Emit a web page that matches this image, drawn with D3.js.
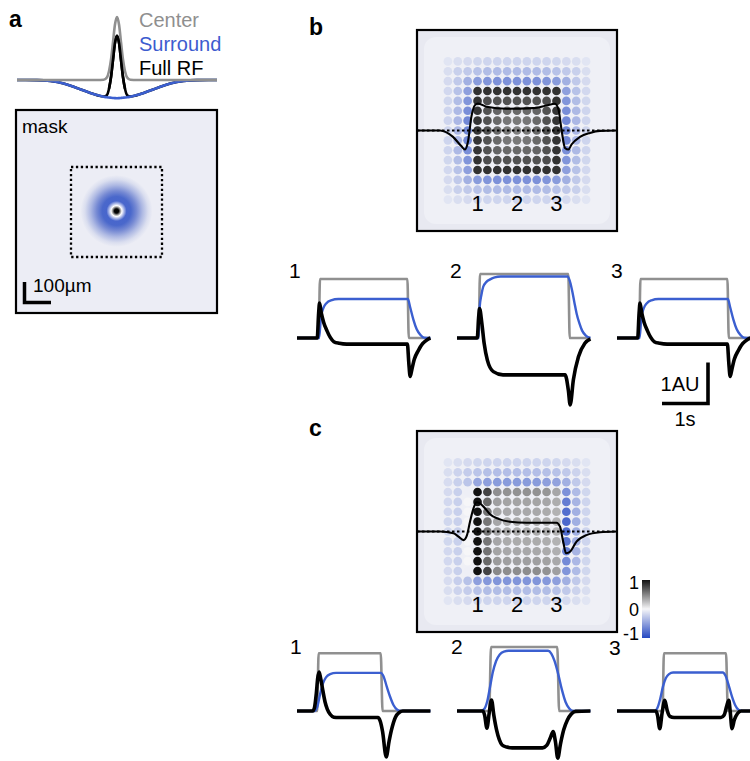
<!DOCTYPE html>
<html>
<head>
<meta charset="utf-8">
<script src="https://cdn.jsdelivr.net/npm/d3@7"></script>
<style>
  body { margin: 0; background: #fff; }
  svg { display: block; }
  text { font-family: "Liberation Sans", Arial, Helvetica, sans-serif; }
</style>
</head>
<body>
<svg id="fig" width="750" height="761"></svg>
<script>
// ---------------- panel a: spatial receptive-field profile (x in µm) ----------------
const profileX = [-375,-300,-250,-200,-160,-130,-100,-75,-50,-38,-30,-22,-15,-8,0,8,15,22,30,38,50,75,100,130,160,200,250,300,375];
const centerRF = [0,0,0,0,0,0,0,0,0.004,0.04,0.14,0.34,0.6,0.87,1,0.87,0.6,0.34,0.14,0.04,0.004,0,0,0,0,0,0,0,0];
const surroundRF = [0,-0.002,-0.015,-0.055,-0.11,-0.16,-0.205,-0.24,-0.265,-0.275,-0.278,-0.282,-0.285,-0.288,-0.29,-0.288,-0.285,-0.282,-0.278,-0.275,-0.265,-0.24,-0.205,-0.16,-0.11,-0.055,-0.015,-0.002,0];
const fullRF = [0,-0.002,-0.015,-0.055,-0.11,-0.16,-0.205,-0.24,-0.262,-0.24,-0.14,0.06,0.32,0.58,0.7,0.58,0.32,0.06,-0.14,-0.24,-0.262,-0.24,-0.205,-0.16,-0.11,-0.055,-0.015,-0.002,0];
const legendLabels = ["Center", "Surround", "Full RF"];
const maskLabel = "mask";
const scaleBarLabel = "100µm";

// ---------------- response maps (15 x 15 stimulus positions, value -1..1) ----------------
const mapB = [
  [-.10,-.14,-.16,-.18,-.19,-.19,-.19,-.19,-.19,-.19,-.19,-.18,-.16,-.14,-.10],
  [-.14,-.22,-.26,-.30,-.33,-.34,-.34,-.34,-.34,-.34,-.33,-.30,-.26,-.22,-.14],
  [-.16,-.26,-.40,-.52,-.56,-.58,-.58,-.58,-.58,-.58,-.56,-.52,-.40,-.26,-.16],
  [-.17,-.30,-.50,.86,.86,.86,.86,.86,.86,.86,.86,.86,-.50,-.30,-.17],
  [-.18,-.33,-.56,.86,.74,.72,.72,.72,.72,.72,.74,.86,-.56,-.33,-.18],
  [-.19,-.35,-.60,.85,.72,.64,.62,.62,.62,.64,.72,.85,-.60,-.35,-.19],
  [-.19,-.36,-.63,.85,.72,.62,.56,.55,.56,.62,.72,.85,-.63,-.36,-.19],
  [-.19,-.36,-.64,.85,.72,.62,.55,.52,.55,.62,.72,.85,-.64,-.36,-.19],
  [-.19,-.36,-.63,.85,.72,.62,.56,.55,.56,.62,.72,.85,-.63,-.36,-.19],
  [-.19,-.35,-.60,.85,.72,.64,.62,.62,.62,.64,.72,.85,-.60,-.35,-.19],
  [-.18,-.33,-.56,.86,.74,.72,.72,.72,.72,.72,.74,.86,-.56,-.33,-.18],
  [-.17,-.30,-.50,.86,.86,.86,.86,.86,.86,.86,.86,.86,-.50,-.30,-.17],
  [-.16,-.26,-.40,-.52,-.56,-.58,-.58,-.58,-.58,-.58,-.56,-.52,-.40,-.26,-.16],
  [-.14,-.22,-.26,-.30,-.33,-.34,-.34,-.34,-.34,-.34,-.33,-.30,-.26,-.22,-.14],
  [-.10,-.14,-.16,-.18,-.19,-.19,-.19,-.19,-.19,-.19,-.19,-.18,-.16,-.14,-.10]
];
const mapC = [
  [-.10,-.14,-.16,-.18,-.19,-.19,-.19,-.19,-.19,-.19,-.19,-.18,-.16,-.14,-.10],
  [-.14,-.20,-.24,-.28,-.31,-.32,-.32,-.32,-.32,-.32,-.31,-.30,-.26,-.20,-.14],
  [-.15,-.22,-.28,-.46,-.50,-.52,-.52,-.52,-.52,-.52,-.50,-.48,-.40,-.26,-.16],
  [-.16,-.22,-.04,1,.78,.45,.44,.44,.44,.44,.42,.35,-.58,-.34,-.18],
  [-.17,-.22,0,1,.62,.38,.36,.36,.36,.36,.35,.32,-.70,-.38,-.19],
  [-.17,-.22,0,1,.58,.36,.34,.34,.34,.34,.33,.30,-.78,-.40,-.19],
  [-.18,-.22,0,1,.56,.35,.33,.33,.33,.33,.32,.30,-.82,-.41,-.19],
  [-.18,-.22,0,1,.56,.35,.33,.33,.33,.33,.32,.30,-.80,-.41,-.19],
  [-.18,-.22,0,1,.56,.35,.33,.33,.33,.33,.32,.30,-.74,-.40,-.19],
  [-.17,-.22,0,1,.58,.36,.34,.34,.34,.34,.33,.31,-.68,-.38,-.19],
  [-.17,-.22,0,1,.62,.40,.38,.38,.38,.38,.37,.34,-.62,-.36,-.18],
  [-.16,-.22,-.04,1,.78,.48,.46,.46,.46,.46,.44,.38,-.56,-.34,-.18],
  [-.15,-.23,-.30,-.50,-.54,-.56,-.56,-.56,-.56,-.56,-.54,-.50,-.40,-.26,-.16],
  [-.14,-.20,-.24,-.30,-.33,-.33,-.33,-.33,-.33,-.33,-.33,-.30,-.26,-.20,-.14],
  [-.10,-.14,-.16,-.18,-.19,-.19,-.19,-.19,-.19,-.19,-.19,-.18,-.16,-.14,-.10]
];
const positionLabels = ["1", "2", "3"];
const positionColumns = [3, 7, 11];
const colorbarTicks = [1, 0, -1];

// ---------------- summed responses drawn over the maps: [time s, AU] ----------------
const overlayB = [[0,0],[0.46,0],[0.72,-0.32],[0.89,-0.79],[0.96,-0.95],[1.02,-0.55],[1.09,0.72],[1.16,1.27],[1.22,1.35],[1.39,1.19],[1.79,1.09],[2.32,1.12],[2.59,1.25],[2.76,1.34],[2.83,1.05],[2.89,0.05],[2.96,-0.87],[3.03,-0.95],[3.09,-0.7],[3.26,-0.32],[3.46,-0.12],[3.66,-0.02],[4,0]];
const overlayC = [[0,0],[0.46,0],[0.73,-0.09],[0.83,-0.26],[0.93,-0.43],[1.0,-0.18],[1.06,0.49],[1.13,1.16],[1.19,1.46],[1.26,1.41],[1.36,1.16],[1.46,0.86],[1.63,0.63],[1.86,0.49],[2.19,0.44],[2.79,0.44],[2.86,0.24],[2.93,-0.59],[2.98,-1.09],[3.06,-1.01],[3.19,-0.51],[3.39,-0.18],[3.66,-0.04],[4,0]];

// ---------------- single-position responses: [time s, AU] ----------------
const b1Center = [[0,0],[0.47,0],[0.5,1.44],[2.4,1.44],[2.43,0],[2.9,0]];
const b1Surround = [[0,0],[0.48,0],[0.52,0.5],[0.57,0.72],[0.64,0.85],[0.74,0.92],[0.9,0.95],[2.41,0.95],[2.46,0.75],[2.53,0.45],[2.6,0.22],[2.68,0.08],[2.76,0.01],[2.9,0]];
const b1Full = [[0,0],[0.44,0],[0.47,0.6],[0.49,0.85],[0.53,0.6],[0.58,0.38],[0.65,0.18],[0.72,0.02],[0.8,-0.09],[0.92,-0.13],[1.08,-0.15],[2.4,-0.15],[2.43,-0.6],[2.46,-0.94],[2.5,-0.75],[2.55,-0.52],[2.64,-0.3],[2.73,-0.14],[2.83,-0.04],[2.9,0]];

const b2Center = [[0,0],[0.47,0],[0.5,1.56],[2.42,1.56],[2.45,0],[2.9,0]];
const b2Surround = [[0,0],[0.47,0],[0.49,0.72],[0.53,1.05],[0.57,1.25],[0.64,1.37],[0.72,1.43],[0.82,1.48],[0.95,1.5],[2.4,1.5],[2.45,1.4],[2.5,1.17],[2.55,0.88],[2.6,0.6],[2.66,0.36],[2.72,0.18],[2.8,0.06],[2.9,0]];
const b2Full = [[0,0],[0.44,0],[0.47,0.5],[0.49,0.72],[0.54,0.36],[0.59,-0.13],[0.66,-0.54],[0.79,-0.82],[1.0,-0.9],[2.35,-0.9],[2.42,-1.27],[2.46,-1.63],[2.53,-1.02],[2.64,-0.46],[2.78,-0.13],[2.9,-0.02]];

const b3Center = [[0,0],[0.48,0],[0.51,1.44],[2.4,1.44],[2.43,0],[2.9,0]];
const b3Surround = [[0,0],[0.49,0],[0.53,0.5],[0.58,0.72],[0.65,0.85],[0.75,0.92],[0.9,0.95],[2.41,0.95],[2.46,0.75],[2.53,0.45],[2.6,0.22],[2.68,0.08],[2.76,0.01],[2.9,0]];
const b3Full = [[0,0],[0.45,0],[0.48,0.6],[0.5,0.85],[0.54,0.6],[0.59,0.38],[0.66,0.18],[0.73,0.02],[0.81,-0.09],[0.93,-0.13],[1.09,-0.15],[2.4,-0.15],[2.43,-0.6],[2.46,-0.94],[2.5,-0.75],[2.55,-0.52],[2.64,-0.3],[2.73,-0.14],[2.83,-0.04],[2.9,0]];

const c1Center = [[0,0],[0.44,0],[0.47,1.41],[1.82,1.41],[1.86,0],[2.9,0]];
const c1Surround = [[0,0],[0.38,0],[0.44,0.1],[0.5,0.4],[0.56,0.66],[0.63,0.82],[0.72,0.9],[0.85,0.93],[1.82,0.93],[1.88,0.85],[1.95,0.6],[2.02,0.36],[2.1,0.14],[2.18,0.03],[2.26,0],[2.9,0]];
const c1Full = [[0,0],[0.34,0],[0.38,0.08],[0.42,0.43],[0.45,0.8],[0.48,0.95],[0.51,0.82],[0.56,0.51],[0.61,0.22],[0.66,0.04],[0.72,-0.08],[0.8,-0.15],[0.9,-0.16],[1.76,-0.16],[1.81,-0.25],[1.86,-0.5],[1.94,-1.12],[2.0,-0.75],[2.05,-0.48],[2.14,-0.15],[2.22,-0.04],[2.3,0],[2.9,0]];

const c2Center = [[0,0],[0.7,0],[0.74,1.56],[2.18,1.56],[2.22,0],[2.9,0]];
const c2Surround = [[0,0],[0.52,0],[0.6,0.06],[0.66,0.25],[0.72,0.6],[0.78,0.95],[0.85,1.22],[0.93,1.38],[1.02,1.45],[1.12,1.47],[1.98,1.47],[2.05,1.4],[2.12,1.22],[2.2,0.9],[2.28,0.52],[2.36,0.22],[2.44,0.06],[2.52,0],[2.9,0]];
const c2Full = [[0,0],[0.56,0],[0.6,-0.1],[0.65,-0.42],[0.7,-0.05],[0.75,0.27],[0.8,-0.1],[0.86,-0.46],[0.92,-0.7],[0.98,-0.83],[1.08,-0.88],[1.2,-0.9],[1.86,-0.9],[1.95,-0.84],[2.03,-0.65],[2.09,-0.5],[2.14,-0.75],[2.19,-1.15],[2.25,-0.8],[2.32,-0.46],[2.4,-0.22],[2.48,-0.08],[2.58,-0.01],[2.9,0]];

const c3Center = [[0,0],[0.99,0],[1.02,1.41],[2.37,1.41],[2.41,0],[2.9,0]];
const c3Surround = [[0,0],[0.82,0],[0.88,0.08],[0.94,0.3],[1.0,0.6],[1.06,0.8],[1.13,0.9],[1.22,0.94],[2.3,0.94],[2.36,0.86],[2.43,0.62],[2.5,0.35],[2.57,0.14],[2.64,0.03],[2.72,0],[2.9,0]];
const c3Full = [[0,0],[0.84,0],[0.88,-0.1],[0.93,-0.43],[0.98,-0.05],[1.04,0.26],[1.09,0.02],[1.15,-0.13],[1.24,-0.16],[2.26,-0.16],[2.33,-0.1],[2.38,0.1],[2.43,0.26],[2.46,0.0],[2.5,-0.43],[2.55,-0.22],[2.62,-0.06],[2.7,0],[2.9,0]];

const scaleLabels = ["1AU", "1s"];

// ---------------- styling ----------------
const GRAY = "#909090", BLUE = "#3b5fd0", BLACK = "#000";
const BG = "#ecedf5";
const svg = d3.select("#fig");
const defs = svg.append("defs");

const cmapPos = d3.interpolateRgb("#f6f6f8", "#121212");
const cmapNeg = d3.interpolateRgb("#f6f6f8", "#2548c2");
const cmap = v => v >= 0 ? cmapPos(v) : cmapNeg(-v);

function label(x, y, txt, opts = {}) {
  return svg.append("text")
    .attr("x", x).attr("y", y)
    .attr("font-size", opts.size || 20)
    .attr("font-weight", opts.bold ? "bold" : null)
    .attr("fill", opts.fill || "#000")
    .attr("text-anchor", opts.anchor || "start")
    .text(txt);
}

// ---------------- panel a ----------------
label(9, 27, "a", { size: 23, bold: true });

const ax = d3.scaleLinear().domain([-375, 375]).range([17, 217]);
const ay = d3.scaleLinear().domain([0, 1]).range([80, 17]);
const profLine = vals => d3.line()
  .defined(d => d !== null)
  .x((d, i) => ax(profileX[i])).y(d => ay(d))
  .curve(d3.curveMonotoneX)(vals);
// full RF underneath, surround on top of it, center on top
svg.append("path").attr("d", profLine(fullRF)).attr("fill", "none").attr("stroke", BLACK).attr("stroke-width", 2.6);
svg.append("path").attr("d", profLine(surroundRF)).attr("fill", "none").attr("stroke", BLUE).attr("stroke-width", 2.6);
svg.append("path").attr("d", profLine(centerRF)).attr("fill", "none").attr("stroke", GRAY).attr("stroke-width", 2.6);
// peak of the full RF stays visible above the surround
svg.append("path").attr("d", profLine(fullRF.map((v, i) => Math.abs(profileX[i]) <= 30 ? v : null)))
  .attr("fill", "none").attr("stroke", BLACK).attr("stroke-width", 2.6);

const legendColors = ["#8f8f8f", "#3d5ccf", "#000"];
legendLabels.forEach((t, i) => label(139, 27 + i * 24, t, { size: 20, fill: legendColors[i] }));

// mask image
svg.append("rect").attr("x", 16).attr("y", 110).attr("width", 201).attr("height", 203)
  .attr("fill", BG).attr("stroke", "#000").attr("stroke-width", 2.2);
label(22, 133, maskLabel, { size: 19 });
svg.append("rect").attr("x", 71).attr("y", 167).attr("width", 91).attr("height", 90)
  .attr("fill", "none").attr("stroke", "#000").attr("stroke-width", 2.3).attr("stroke-dasharray", "2.3,2.6");

const blobStops = [
  [0, "#000"], [0.06, "#050505"], [0.11, "#9a9a9a"], [0.15, "#ffffff"], [0.2, "#b8c3ec"],
  [0.28, "#4866cc"], [0.4, "#4a68cb"], [0.55, "#7589d3"], [0.72, "#aeb9e3"], [0.88, "#dadeef"], [1, BG]
];
const rg = defs.append("radialGradient").attr("id", "blob");
rg.selectAll("stop").data(blobStops).join("stop")
  .attr("offset", d => d[0]).attr("stop-color", d => d[1]);
svg.append("circle").attr("cx", 116.5).attr("cy", 211).attr("r", 36).attr("fill", "url(#blob)");

// 100 µm scale bar
svg.append("path").attr("d", "M24.5,282 V302.5 H51").attr("fill", "none")
  .attr("stroke", "#000").attr("stroke-width", 3.5);
label(33, 292, scaleBarLabel, { size: 19 });

// ---------------- response maps ----------------
const SP = 9.87;
function drawMap(top, rows, overlay) {
  const box = { x: 417, y: top, w: 200, h: 201 };
  const g = svg.append("g");
  g.append("rect").attr("x", box.x).attr("y", box.y).attr("width", box.w).attr("height", box.h)
    .attr("fill", "#e8e9f1");
  g.append("rect").attr("x", box.x + 7).attr("y", box.y + 7).attr("width", box.w - 14).attr("height", box.h - 14)
    .attr("rx", 12).attr("fill", "#eff0f6");
  const n = rows.length;
  const cx = 517, cy = top + 100.5;
  const gx = d3.scaleLinear().domain([0, n - 1]).range([cx - (n - 1) / 2 * SP, cx + (n - 1) / 2 * SP]);
  const gy = d3.scaleLinear().domain([0, n - 1]).range([cy - (n - 1) / 2 * SP, cy + (n - 1) / 2 * SP]);
  const cells = [];
  rows.forEach((row, r) => row.forEach((v, c) => cells.push({ r, c, v })));
  g.selectAll("circle.dot").data(cells).join("circle").attr("class", "dot")
    .attr("cx", d => gx(d.c)).attr("cy", d => gy(d.r)).attr("r", 4.35)
    .attr("fill", d => cmap(d.v));

  // summed response across the map
  const ox = d3.scaleLinear().domain([0, 4]).range([box.x, box.x + box.w]);
  const oy = d3.scaleLinear().domain([0, 1]).range([cy, cy - 20]);
  g.append("line").attr("x1", box.x).attr("x2", box.x + box.w).attr("y1", oy(0)).attr("y2", oy(0))
    .attr("stroke", "#000").attr("stroke-width", 2.2).attr("stroke-dasharray", "2.5,2.5");
  g.append("path").attr("d", d3.line().x(d => ox(d[0])).y(d => oy(d[1])).curve(d3.curveMonotoneX)(overlay))
    .attr("fill", "none").attr("stroke", "#000").attr("stroke-width", 2.1);

  g.append("rect").attr("x", box.x).attr("y", box.y).attr("width", box.w).attr("height", box.h)
    .attr("fill", "none").attr("stroke", "#000").attr("stroke-width", 2.2);

  positionLabels.forEach((t, i) =>
    g.append("text").attr("x", gx(positionColumns[i])).attr("y", top + 181)
      .attr("text-anchor", "middle").attr("font-size", 22).text(t));
}

label(309, 35, "b", { size: 23, bold: true });
drawMap(30, mapB, overlayB);
label(309, 436, "c", { size: 23, bold: true });
drawMap(431, mapC, overlayC);

// colorbar
const cbStops = [1, 0.5, 0, -0.5, -1];
const lg = defs.append("linearGradient").attr("id", "cbar").attr("x1", 0).attr("y1", 0).attr("x2", 0).attr("y2", 1);
lg.selectAll("stop").data(cbStops).join("stop")
  .attr("offset", (d, i) => i / (cbStops.length - 1)).attr("stop-color", d => cmap(d));
const cbY = d3.scaleLinear().domain([1, -1]).range([580, 638]);
svg.append("rect").attr("x", 642).attr("y", cbY(1)).attr("width", 8).attr("height", cbY(-1) - cbY(1))
  .attr("fill", "url(#cbar)");
const cbDy = { "1": 9, "0": 7, "-1": 2 };
colorbarTicks.forEach(v => label(639, cbY(v) + cbDy[String(v)], String(v), { size: 18, anchor: "end" }));

// ---------------- single-position traces ----------------
const TX = 46, AU = 41;
function drawTraces(x0, base, center, surround, full) {
  const x = d3.scaleLinear().domain([0, 1]).range([x0, x0 + TX]);
  const y = d3.scaleLinear().domain([0, 1]).range([base, base - AU]);
  const line = d3.line().x(d => x(d[0])).y(d => y(d[1])).curve(d3.curveMonotoneX);
  const g = svg.append("g");
  g.append("path").attr("d", line(center))
    .attr("fill", "none").attr("stroke", GRAY).attr("stroke-width", 2.6);
  g.append("path").attr("d", line(surround))
    .attr("fill", "none").attr("stroke", BLUE).attr("stroke-width", 2.4);
  g.append("path").attr("d", line(full))
    .attr("fill", "none").attr("stroke", BLACK).attr("stroke-width", 3.6).attr("stroke-linejoin", "round");
  return { x, y };
}

drawTraces(297, 338, b1Center, b1Surround, b1Full);
drawTraces(457, 338, b2Center, b2Surround, b2Full);
const tb3 = drawTraces(617, 338, b3Center, b3Surround, b3Full);
label(289, 278, positionLabels[0], { size: 21 });
label(450, 278, positionLabels[1], { size: 21 });
label(611, 278, positionLabels[2], { size: 21 });

drawTraces(297, 711, c1Center, c1Surround, c1Full);
drawTraces(457, 711, c2Center, c2Surround, c2Full);
drawTraces(617, 711, c3Center, c3Surround, c3Full);
label(290, 654, positionLabels[0], { size: 21 });
label(451, 654, positionLabels[1], { size: 21 });
label(609, 655, positionLabels[2], { size: 21 });

// scale bar: 1 AU vertical, 1 s horizontal
const sbX = 708, sbY = 403.5;
svg.append("path")
  .attr("d", `M${sbX - (tb3.x(1) - tb3.x(0))},${sbY} H${sbX} V${sbY - (tb3.y(0) - tb3.y(1))}`)
  .attr("fill", "none").attr("stroke", "#000").attr("stroke-width", 3.6);
label(680, 391, scaleLabels[0], { size: 20, anchor: "middle" });
label(685, 426, scaleLabels[1], { size: 20, anchor: "middle" });
</script>
</body>
</html>
